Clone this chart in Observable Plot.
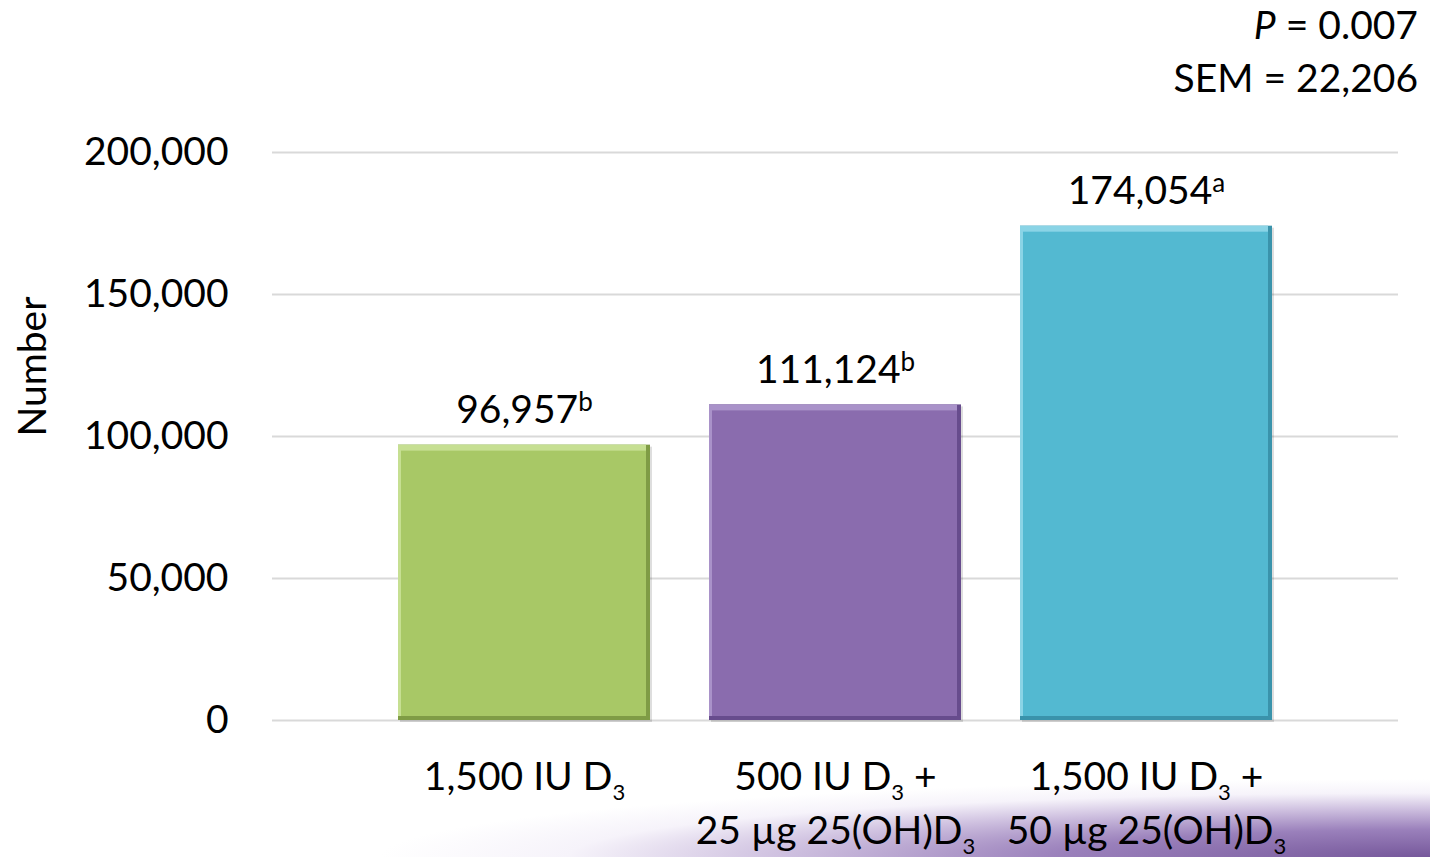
<!DOCTYPE html>
<html>
<head>
<meta charset="utf-8">
<script src="https://cdn.jsdelivr.net/npm/d3@7"></script>
<script src="https://cdn.jsdelivr.net/npm/@observablehq/plot@0.6"></script>
<style>
  html, body { margin: 0; padding: 0; background: #fff; }
  #wrap { position: relative; width: 1430px; height: 857px; overflow: hidden; font-family: Lato, "Noto Sans", sans-serif; }
  #swoosh {
    position: absolute; left: 0; top: 757px; width: 1430px; height: 100px;
    background: radial-gradient(1050px 78px at 100% 100%, #76589b 0%, #9a80bb 35%, #cfc1e0 62%, rgba(240,235,247,0.6) 82%, rgba(255,255,255,0) 100%);
  }
  #stats {
    position: absolute; right: 12px; top: -2px; text-align: right;
    font-size: 39px; line-height: 53px; color: #000;
  }
  #chart { position: absolute; left: 0; top: 0; }
</style>
</head>
<body>
<div id="wrap">
  <div id="swoosh"></div>
  <div id="chart"></div>
  <div id="stats"><i>P</i> = 0.007<br>SEM = 22,206</div>
</div>
<script>
// Treatment groups (₃ is drawn as a subscript)
const groups = [
  "1,500 IU D₃",
  "500 IU D₃ +\n25 µg 25(OH)D₃",
  "1,500 IU D₃ +\n50 µg 25(OH)D₃"
];
const counts = [96957, 111124, 174054];
const letters = ["b", "b", "a"];
const yTicks = [0, 50000, 100000, 150000, 200000];

// Bar palette: face, top/left highlight, right/bottom shade
const faceColors = ["#a8c866", "#8a6cae", "#53b9d1"];
const lightColors = ["#c6df92", "#a992c9", "#8ad4e6"];
const darkColors = ["#7f9c45", "#674c8d", "#3a93ab"];

const rows = groups.map((g, i) => ({group: g, count: counts[i]}));
const fmt = d3.format(",");

const svg = Plot.plot({
  width: 1430,
  height: 857,
  marginLeft: 272,
  marginRight: 32,
  marginTop: 152,
  marginBottom: 137,
  style: {fontFamily: "Lato, 'Noto Sans', sans-serif", fontSize: "39px", color: "#000", background: "transparent", overflow: "visible"},
  x: {domain: groups, paddingInner: 0.189, paddingOuter: 0.399, label: null},
  y: {domain: [0, 200000], label: null},
  marks: [
    Plot.ruleY(yTicks, {stroke: "#d9d9d9", strokeWidth: 2}),
    Plot.axisY({ticks: yTicks, tickSize: 0, tickPadding: 44, tickFormat: fmt, fontSize: 39, label: null}),
    Plot.axisX({tickSize: 0, tickPadding: 31, lineHeight: 1.38, fontSize: 39, label: null}),
    // soft drop shadow
    Plot.barY(rows, {x: "group", y: "count", fill: "#000", fillOpacity: 0.13, dx: 2, dy: 2}),
    // bevelled bars
    Plot.barY(rows, {x: "group", y: "count", fill: (d, i) => darkColors[i]}),
    Plot.barY(rows, {x: "group", y: "count", fill: (d, i) => lightColors[i], insetRight: 4, insetBottom: 4}),
    Plot.barY(rows, {x: "group", y: "count", fill: (d, i) => faceColors[i], insetTop: 6, insetLeft: 3, insetRight: 4, insetBottom: 4}),
    // value labels with significance letters
    Plot.text(rows, {x: "group", y: "count", text: (d, i) => fmt(d.count) + letters[i], dy: -22, lineAnchor: "bottom", fontSize: 39}),
    // y-axis title
    Plot.text(["Number"], {frameAnchor: "left", text: d => d, dx: -239, rotate: -90, fontSize: 39})
  ]
});

// superscript letters after each value
const valueGroup = d3.select(svg).selectAll('g[aria-label="text"]').nodes()[0];
d3.select(valueGroup).selectAll("text").each(function (_, i) {
  const t = d3.select(this);
  t.text(null);
  t.append("tspan").text(fmt(counts[i]));
  t.append("tspan").attr("font-size", 26).attr("baseline-shift", 12).text(letters[i]);
});

// subscript 3 in the group names
function subscriptify(el) {
  const s = el.textContent;
  if (!s.includes("₃")) return;
  el.textContent = "";
  s.split("₃").forEach((part, k) => {
    if (k > 0) {
      const sub = document.createElementNS("http://www.w3.org/2000/svg", "tspan");
      sub.setAttribute("font-size", 22);
      sub.setAttribute("baseline-shift", -10);
      sub.textContent = "3";
      el.appendChild(sub);
    }
    if (part) {
      const p = document.createElementNS("http://www.w3.org/2000/svg", "tspan");
      p.textContent = part;
      el.appendChild(p);
    }
  });
}
d3.select(svg).selectAll('g[aria-label="x-axis tick label"] text').each(function () {
  const lines = this.querySelectorAll("tspan");
  const targets = lines.length ? Array.from(lines) : [this];
  targets.forEach(subscriptify);
});

document.getElementById("chart").appendChild(svg);
</script>
</body>
</html>
